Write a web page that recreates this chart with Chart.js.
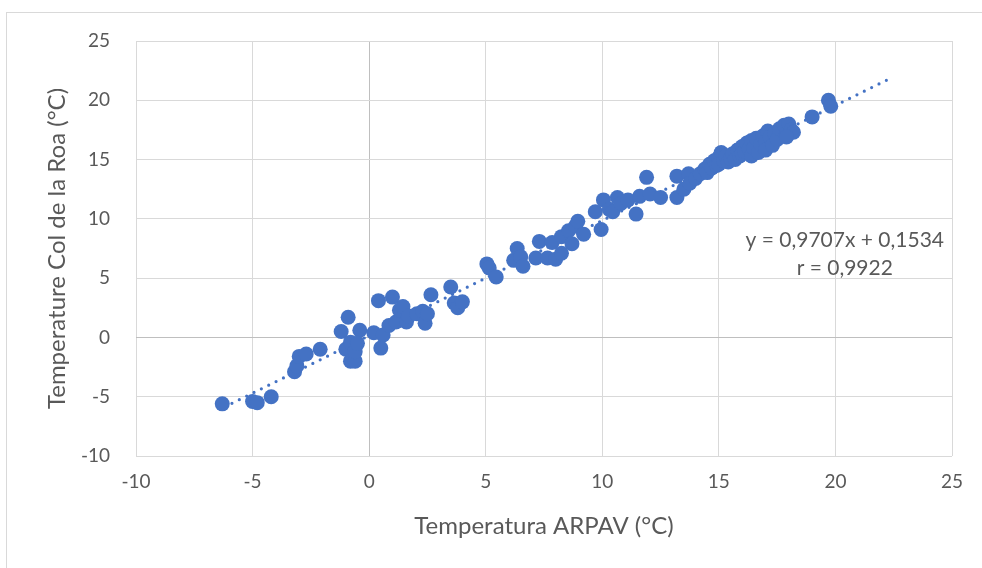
<!DOCTYPE html>
<html>
<head>
<meta charset="utf-8">
<script src="https://cdn.jsdelivr.net/npm/chart.js@4.4.1/dist/chart.umd.min.js"></script>
<style>
  html, body { margin: 0; padding: 0; background: #fff; }
  #wrap { position: relative; width: 982px; height: 568px; overflow: hidden; }
  #frame { position: absolute; left: 6px; top: 12px; width: 1000px; height: 600px; border: 1px solid #d9d9d9; }
  canvas { position: absolute; left: 0; top: 0; }
</style>
</head>
<body>
<div id="wrap">
  <div id="frame"></div>
  <canvas id="chart" width="982" height="568"></canvas>
</div>
<script>
// ARPAV station temperature (x) vs Col de la Roa temperature (y), °C
const arpavTemp = [
  -6.3, -5.0, -4.8, -4.2, -3.2, -3.1, -3.0, -2.7, -2.1, -1.2,
  -0.9, -1.0, -0.8, -0.8, -0.6, -0.6, -0.4, -0.5, 0.4, 0.2,
  0.5, 0.6, 0.85, 1.0, 1.15, 1.3, 1.45, 1.6, 1.7, 2.05,
  2.3, 2.4, 2.65, 2.5, 3.5, 3.65, 3.8, 4.0, 5.05, 5.15,
  5.45, 6.2, 6.35, 6.5, 6.6, 7.15, 7.3, 7.65, 7.85, 8.0,
  8.25, 8.25, 8.55, 8.7, 8.85, 8.95, 9.2, 9.7, 9.95, 10.05,
  10.3, 10.45, 10.65, 10.8, 11.1, 11.45, 11.6, 11.9, 12.05, 12.5,
  13.2, 13.2, 13.5, 13.7, 13.75, 14.0,
  14.2, 14.4, 14.5, 14.6, 14.7, 14.8, 14.9, 15.0, 15.0, 15.1,
  15.2, 15.3, 15.4, 15.5, 15.6, 15.7, 15.8, 15.9, 16.0, 16.0,
  16.1, 16.2, 16.3, 16.4, 16.4, 16.5, 16.6, 16.7, 16.8, 16.9,
  17.0, 17.0, 17.1, 17.2, 17.3, 17.4, 17.5, 17.6, 17.8, 17.9,
  18.0, 18.1, 18.2, 17.9, 19.0, 19.7, 19.8
];
const roaTemp = [
  -5.6, -5.4, -5.5, -5.0, -2.9, -2.4, -1.6, -1.4, -1.0, 0.5,
  1.7, -1.0, -0.4, -2.0, -2.0, -1.2, 0.6, -0.5, 3.1, 0.4,
  -0.9, 0.2, 1.0, 3.4, 1.3, 2.3, 2.6, 1.3, 1.8, 2.0,
  2.2, 1.2, 3.6, 2.0, 4.25, 2.9, 2.5, 3.0, 6.2, 5.85,
  5.1, 6.5, 7.5, 6.8, 6.0, 6.7, 8.1, 6.7, 8.0, 6.6,
  8.5, 7.1, 9.0, 7.9, 9.4, 9.8, 8.7, 10.6, 9.1, 11.6,
  10.8, 10.6, 11.8, 11.3, 11.6, 10.4, 11.9, 13.5, 12.1, 11.8,
  11.8, 13.6, 12.5, 13.8, 13.0, 13.4,
  13.8, 14.2, 13.9, 14.6, 14.3, 14.9, 14.5, 15.2, 14.6, 15.6,
  14.9, 15.3, 14.8, 15.1, 15.5, 15.0, 15.8, 15.3, 16.1, 15.5,
  15.7, 16.4, 15.9, 16.6, 15.3, 16.0, 16.8, 15.6, 16.3, 17.0,
  16.5, 15.8, 17.4, 16.9, 16.2, 17.2, 16.7, 17.6, 17.9, 17.2,
  18.0, 17.5, 17.3, 16.9, 18.6, 20.0, 19.5
];

// linear trendline as printed on the chart
const trendSlope = 0.9707;
const trendIntercept = 0.1534;
const trendRange = [-6.2, 22.2];
const trendLabel = ["y = 0,9707x + 0,1534", "r = 0,9922"];

const axisTicks = [-10, -5, 0, 5, 10, 15, 20, 25];

const BLUE = "#4472c4";
const TEXT = "#595959";
const FONT = "Lato, 'Open Sans', sans-serif";

const points = arpavTemp.map((x, i) => ({ x, y: roaTemp[i] }));
const trend = trendRange.map((x) => ({ x, y: trendSlope * x + trendIntercept }));

const gridColor = (ctx) => (ctx.tick && ctx.tick.value === 0 ? "#bfbfbf" : "#d9d9d9");

const equationPlugin = {
  id: "equation",
  afterDatasetsDraw(chart) {
    const { ctx, scales } = chart;
    const cx = scales.x.getPixelForValue(20.4);
    const cy = scales.y.getPixelForValue(8.2);
    ctx.save();
    ctx.fillStyle = TEXT;
    ctx.font = "21px " + FONT;
    ctx.textAlign = "center";
    ctx.textBaseline = "middle";
    trendLabel.forEach((line, i) => ctx.fillText(line, cx, cy + i * 28));
    ctx.restore();
  },
};

new Chart(document.getElementById("chart"), {
  type: "scatter",
  data: {
    datasets: [
      {
        label: "Temperature",
        data: points,
        backgroundColor: BLUE,
        borderWidth: 0,
        pointRadius: 7.5,
        pointHoverRadius: 7.5,
      },
      {
        label: "Trend",
        data: trend,
        showLine: true,
        pointRadius: 0,
        borderColor: BLUE,
        borderWidth: 3.2,
        borderDash: [0, 8.2],
        borderCapStyle: "round",
      },
    ],
  },
  options: {
    responsive: false,
    animation: false,
    events: [],
    layout: { padding: { left: 0, top: 41, right: 30, bottom: 0 } },
    plugins: {
      legend: { display: false },
      tooltip: { enabled: false },
    },
    scales: {
      x: {
        type: "linear",
        min: -10,
        max: 25,
        afterBuildTicks: (scale) => { scale.ticks = axisTicks.map((value) => ({ value })); },
        afterFit: (scale) => { scale.height = 112; },
        border: { display: false },
        grid: { color: gridColor, lineWidth: 1, drawTicks: false },
        ticks: { color: TEXT, font: { family: FONT, size: 19 }, padding: 14 },
        title: {
          display: true,
          text: "Temperatura ARPAV (°C)",
          color: TEXT,
          font: { family: FONT, size: 24 },
          padding: { top: 0, bottom: 27 },
        },
      },
      y: {
        type: "linear",
        min: -10,
        max: 25,
        afterBuildTicks: (scale) => { scale.ticks = axisTicks.map((value) => ({ value })); },
        afterFit: (scale) => { scale.width = 136; },
        border: { display: false },
        grid: { color: gridColor, lineWidth: 1, drawTicks: false },
        ticks: { color: TEXT, font: { family: FONT, size: 19 }, padding: 26 },
        title: {
          display: true,
          text: "Temperature Col de la Roa (°C)",
          color: TEXT,
          font: { family: FONT, size: 24 },
          padding: { top: 43, bottom: 0 },
        },
      },
    },
  },
  plugins: [equationPlugin],
});
</script>
</body>
</html>
